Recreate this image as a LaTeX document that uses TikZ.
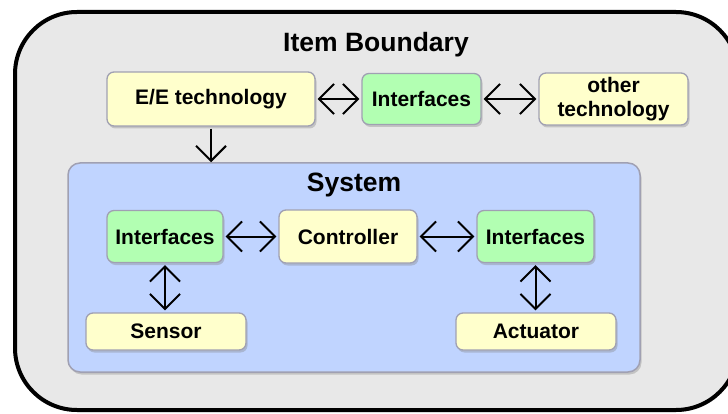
\documentclass[tikz,border=0pt]{standalone}
\usepackage{fontspec}
\setmainfont{Liberation Sans}
\usetikzlibrary{arrows.meta,shadows}
\definecolor{BoundClr}{RGB}{232,232,232}
\definecolor{SystemClr}{RGB}{192,212,255}
\definecolor{TechClr}{RGB}{255,255,204}
\definecolor{IfaceClr}{RGB}{178,255,178}
\definecolor{EdgeClr}{RGB}{160,160,178}

\begin{document}
\begin{tikzpicture}[x=1pt,y=-1pt,
  barb/.tip={Straight Barb[length=15pt,width=30pt,line width=2pt]},
  box/.style={draw=EdgeClr,line width=1.3pt,rounded corners=7pt,
    drop shadow={shadow xshift=1.5pt,shadow yshift=-2.5pt,opacity=.35},
    font=\fontsize{21}{24}\selectfont\bfseries,align=center,inner sep=0pt},
  tech/.style={box,fill=TechClr},
  iface/.style={box,fill=IfaceClr},
  title/.style={font=\fontsize{26.5}{28}\selectfont\bfseries},
  link/.style={barb-barb,line width=2pt,shorten >=2pt,shorten <=2pt}]
\useasboundingbox (0,0) rectangle (728,414);

% item boundary
\draw[line width=4pt,fill=BoundClr,rounded corners=62pt,
  drop shadow={shadow xshift=1pt,shadow yshift=-2pt,opacity=.25}]
  (15,12) rectangle (738,410);
\node[title] (item) at (376,45) {Item Boundary};

\node[tech,minimum width=208pt,minimum height=54pt] (ee) at (211,99) {E/E technology};
\node[iface,minimum width=119pt,minimum height=51pt] (ifTop) at (421.5,99) {Interfaces};
\node[tech,minimum width=149pt,minimum height=52pt] (other) at (613.5,99) {other\\technology};

% system
\node[draw=EdgeClr,line width=1.5pt,fill=SystemClr,rounded corners=12pt,
  drop shadow={shadow xshift=1.5pt,shadow yshift=-2.5pt,opacity=.35},
  minimum width=572pt,minimum height=209pt,inner sep=0pt] (sys) at (354,267.5) {};
\node[title] (sysTitle) at (354,185) {System};

\node[iface,minimum width=116pt,minimum height=52pt] (ifLeft) at (165,236.5) {Interfaces};
\node[tech,minimum width=138pt,minimum height=53pt] (ctrl) at (348,236.5) {Controller};
\node[iface,minimum width=117pt,minimum height=52pt] (ifRight) at (535.5,236.5) {Interfaces};
\node[tech,minimum width=160pt,minimum height=37pt] (sensor) at (166,331.5) {Sensor};
\node[tech,minimum width=160pt,minimum height=37pt] (act) at (536,331.5) {Actuator};

% connectors
\draw[link] (ee) -- (ifTop);
\draw[link] (ifTop) -- (other);
\draw[-barb,line width=2pt,shorten <=2pt] (ee.south) -- (ee.south |- sys.north);
\draw[link] (ifLeft) -- (ctrl);
\draw[link] (ctrl) -- (ifRight);
\draw[link] (ifLeft) -- (ifLeft |- sensor.north);
\draw[link] (ifRight) -- (ifRight |- act.north);
\end{tikzpicture}
\end{document}
